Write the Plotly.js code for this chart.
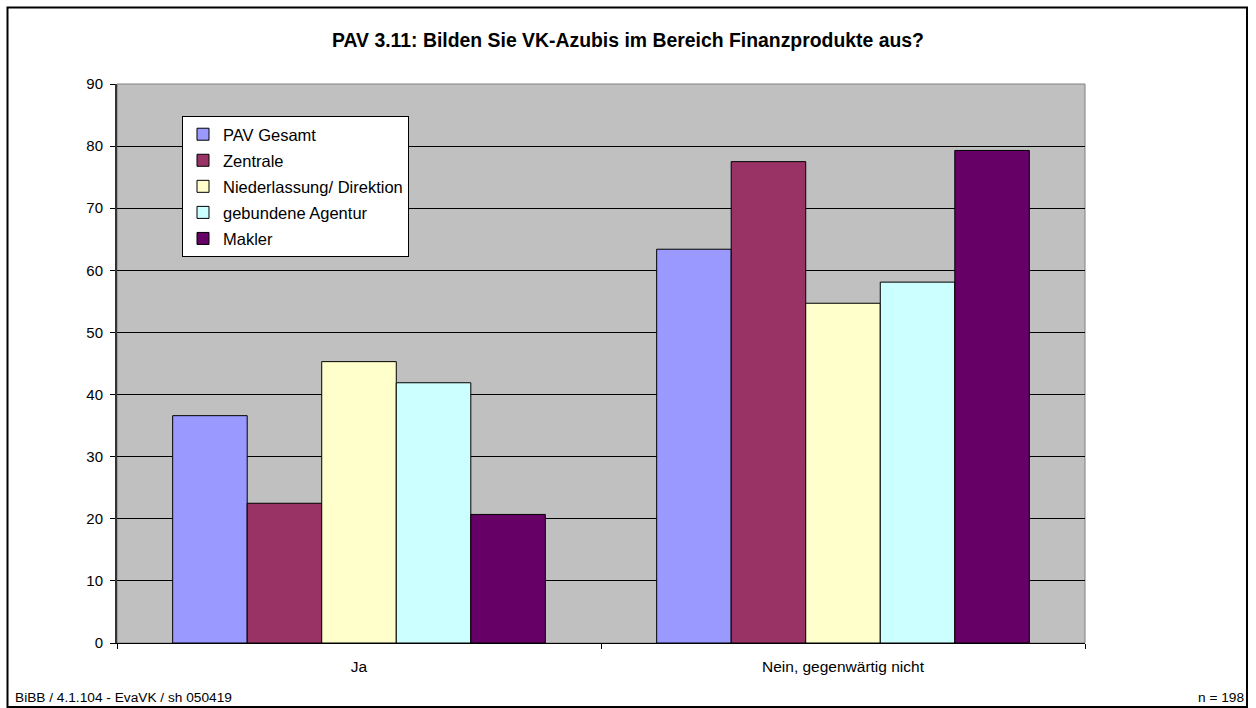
<!DOCTYPE html>
<html>
<head>
<meta charset="utf-8">
<script src="https://cdn.plot.ly/plotly-3.0.1.min.js"></script>
<style>
  html, body { margin: 0; padding: 0; background: #ffffff; }
  #chart { width: 1256px; height: 708px; }
</style>
</head>
<body>
<div id="chart"></div>
<script>
const categories = ["Ja", "Nein, gegenwärtig nicht"];
const seriesNames = ["PAV Gesamt", "Zentrale", "Niederlassung/ Direktion", "gebundene Agentur", "Makler"];
const pavGesamt = [36.6, 63.4];
const zentrale = [22.5, 77.5];
const niederlassung = [45.3, 54.7];
const agentur = [41.9, 58.1];
const makler = [20.7, 79.3];
const seriesColors = ["#9999FF", "#993366", "#FFFFCC", "#CCFFFF", "#660066"];
const yTicks = [0, 10, 20, 30, 40, 50, 60, 70, 80, 90];

const seriesValues = [pavGesamt, zentrale, niederlassung, agentur, makler];
const traces = seriesNames.map((name, i) => ({
  type: "bar",
  name: name,
  x: categories,
  y: seriesValues[i],
  legendgroup: "g" + i,
  marker: { color: seriesColors[i], line: { color: "#000000", width: 1 } },
  hoverinfo: "x+y+name"
}));

const L = 117, R = 1085, T = 84, B = 643, W = 1256, H = 708;
const pw = R - L, ph = B - T;
const px = v => (v - L) / pw;
const py = v => (B - v) / ph;
const FONT = "Liberation Sans, Arial, sans-serif";

const layout = {
  width: W, height: H,
  margin: { l: L, r: W - R, t: T, b: H - B, pad: 0 },
  paper_bgcolor: "#ffffff",
  plot_bgcolor: "#C0C0C0",
  font: { family: FONT, size: 15, color: "#000000" },
  title: {
    text: "<b>PAV 3.11: Bilden Sie VK-Azubis im Bereich Finanzprodukte aus?</b>",
    font: { family: FONT, size: 19.4, color: "#000000" },
    x: 628 / W, xanchor: "center", xref: "container",
    y: 1 - 40 / H, yanchor: "middle", yref: "container"
  },
  barmode: "group",
  bargap: 0.23,
  bargroupgap: 0,
  showlegend: true,
  legend: {
    x: px(182), y: py(116), xanchor: "left", yanchor: "top",
    bgcolor: "#ffffff", bordercolor: "#000000", borderwidth: 1,
    font: { family: FONT, size: 16.5, color: "#000000" },
    tracegroupgap: 1.6,
    itemwidth: 30,
    traceorder: "grouped"
  },
  xaxis: {
    type: "category",
    tickson: "boundaries",
    ticks: "outside", ticklen: 5, tickcolor: "#000000", tickwidth: 1,
    ticklabelstandoff: 9,
    showline: true, linecolor: "#000000", linewidth: 1,
    showgrid: false, zeroline: false,
    tickfont: { family: FONT, size: 15.5, color: "#000000" },
    fixedrange: true
  },
  yaxis: {
    range: [0, 90],
    tickvals: yTicks,
    ticktext: yTicks.map(String),
    ticks: "outside", ticklen: 5, tickcolor: "#000000", tickwidth: 1,
    ticklabelstandoff: 4,
    showline: true, linecolor: "#333333", linewidth: 2,
    showgrid: true, gridcolor: "#000000", gridwidth: 1,
    zeroline: false,
    tickfont: { family: FONT, size: 15, color: "#000000" },
    fixedrange: true
  },
  shapes: [
    { type: "rect", xref: "paper", yref: "paper", x0: 0, x1: 1, y0: 0, y1: 1,
      line: { color: "#808080", width: 1 }, layer: "below", fillcolor: "rgba(0,0,0,0)" },
    { type: "rect", xref: "paper", yref: "paper",
      x0: px(7.5), x1: px(1247), y0: py(707), y1: py(7.5),
      line: { color: "#000000", width: 2 }, fillcolor: "rgba(0,0,0,0)" }
  ],
  annotations: [
    { text: "BiBB / 4.1.104 - EvaVK / sh 050419", xref: "paper", yref: "paper",
      x: px(13), y: py(697), xanchor: "left", yanchor: "middle", showarrow: false,
      font: { family: FONT, size: 13.7, color: "#000000" } },
    { text: "n = 198", xref: "paper", yref: "paper",
      x: px(1246), y: py(697), xanchor: "right", yanchor: "middle", showarrow: false,
      font: { family: FONT, size: 13.7, color: "#000000" } }
  ]
};

Plotly.newPlot("chart", traces, layout, { displayModeBar: false, staticPlot: true });
</script>
</body>
</html>
